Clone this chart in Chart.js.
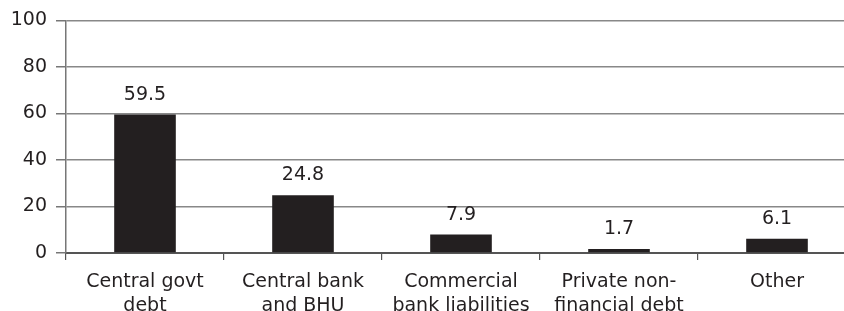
<!DOCTYPE html>
<html>
<head>
<meta charset="utf-8">
<script src="https://cdn.jsdelivr.net/npm/chart.js@4/dist/chart.umd.min.js"></script>
<style>
  html, body { margin: 0; padding: 0; background: #fff; overflow: hidden; }
  #wrap { width: 844px; height: 311px; overflow: hidden; }
</style>
</head>
<body>
<div id="wrap"><canvas id="bars" width="870" height="311"></canvas></div>
<script>
// values
var categories = [
	["Central govt", "debt"],
	["Central bank", "and BHU"],
	["Commercial", "bank liabilities"],
	["Private non-", "financial debt"],
	["Other"]
];
var shares = [59.5, 24.8, 7.9, 1.7, 6.1];
var yTicks = [0, 20, 40, 60, 80, 100];

var ink = "#231f20";

// numbers over the bars
var valueLabels = {
	id: "valueLabels",
	afterDatasetsDraw: function (chart) {
		var ctx = chart.ctx;
		var meta = chart.getDatasetMeta(0);
		ctx.save();
		ctx.font = "19px 'DejaVu Sans'";
		ctx.fillStyle = ink;
		ctx.textAlign = "center";
		ctx.textBaseline = "alphabetic";
		meta.data.forEach(function (bar, i) {
			ctx.fillText(shares[i].toFixed(1), bar.x, bar.y - 15);
		});
		ctx.restore();
	}
};

var ctx = document.getElementById("bars").getContext("2d");
var chart = new Chart(ctx, {
	type: "bar",
	data: {
		labels: categories,
		datasets: [{
			data: shares,
			backgroundColor: ink,
			borderWidth: 0,
			barPercentage: 0.39,
			categoryPercentage: 1
		}]
	},
	options: {
		responsive: false,
		animation: false,
		layout: { padding: { top: 20, right: 14, left: 0, bottom: 0 } },
		plugins: { legend: { display: false }, tooltip: { enabled: false } },
		scales: {
			x: {
				offset: true,
				grid: {
					offset: true,
					drawOnChartArea: false,
					drawTicks: true,
					tickLength: 7,
					color: "#555",
					lineWidth: 1.2
				},
				border: { color: "#555", width: 2 },
				ticks: {
					color: ink,
					font: { family: "'DejaVu Sans'", size: 19, lineHeight: 1.25 },
					padding: 10,
					maxRotation: 0,
					autoSkip: false
				},
				afterFit: function (scale) { scale.height = 58; }
			},
			y: {
				min: 0,
				max: 100,
				afterBuildTicks: function (scale) {
					scale.ticks = yTicks.map(function (v) { return { value: v }; });
				},
				grid: {
					color: "#888",
					lineWidth: 1.5,
					tickLength: 10,
					tickColor: "#777"
				},
				border: { color: "#777", width: 1.5 },
				ticks: {
					color: ink,
					font: { family: "'DejaVu Sans'", size: 19 },
					padding: 9
				},
				afterFit: function (scale) { scale.width = 66; }
			}
		}
	},
	plugins: [valueLabels]
});
</script>
</body>
</html>
